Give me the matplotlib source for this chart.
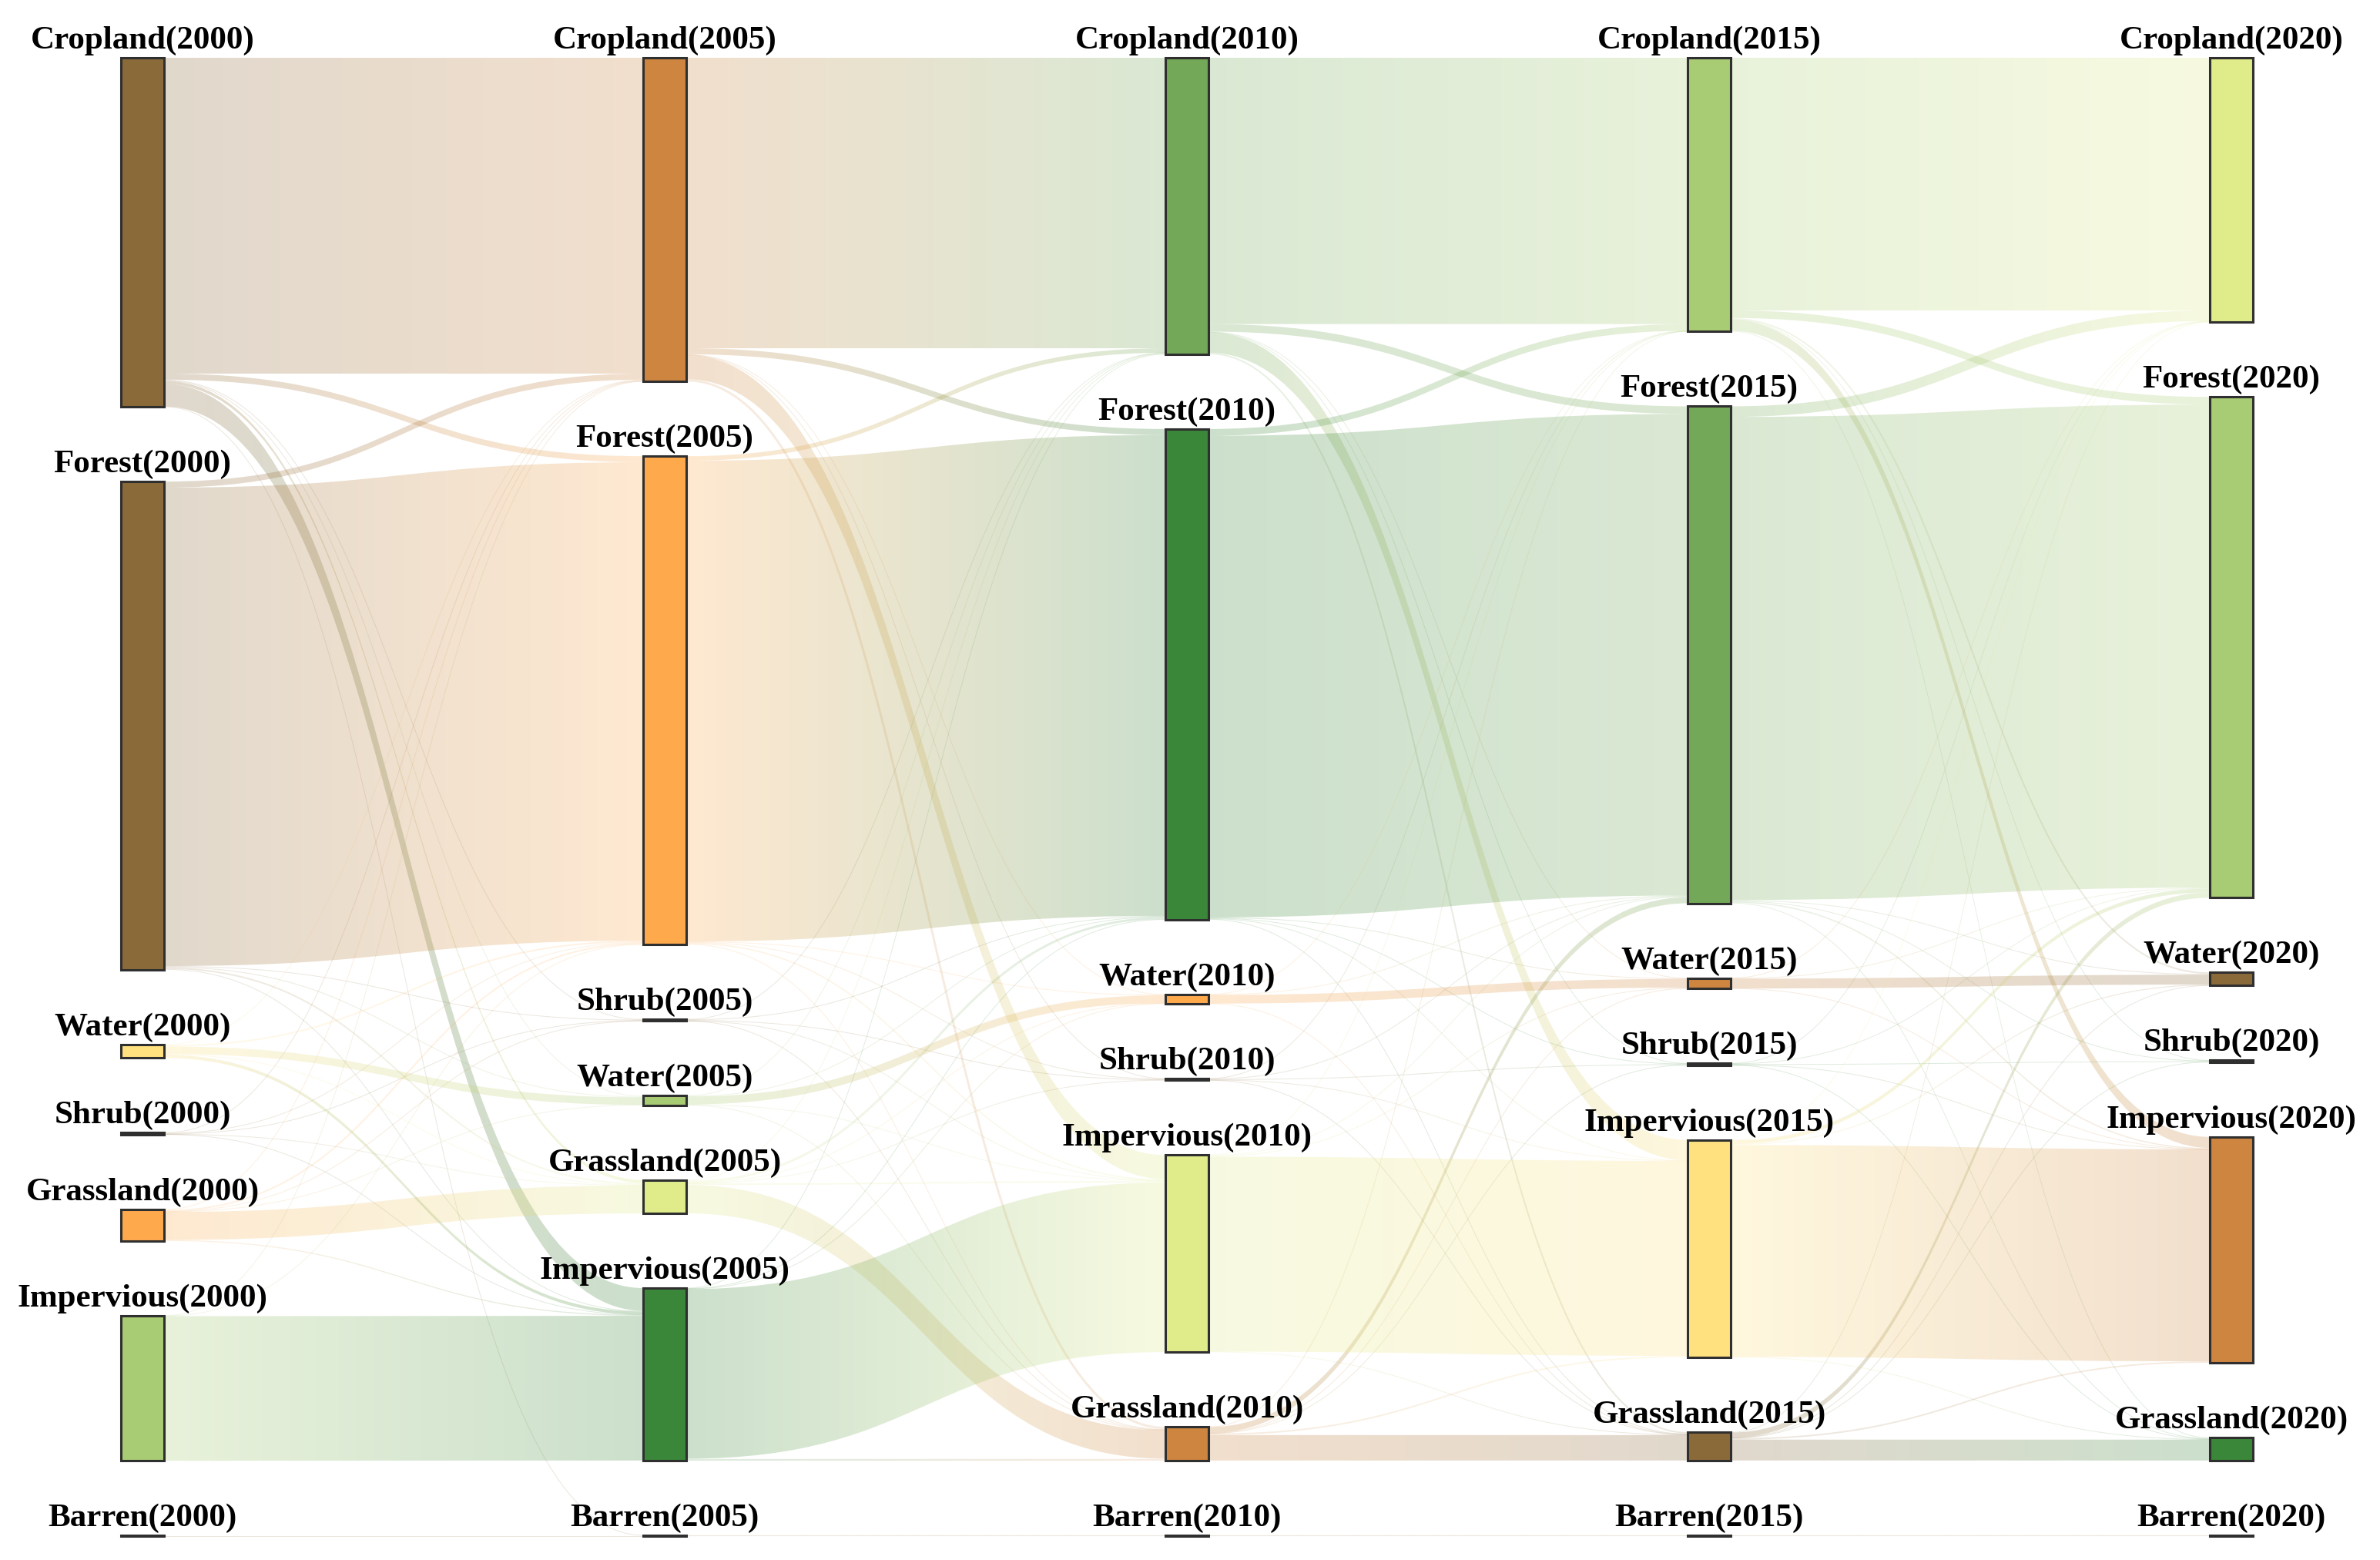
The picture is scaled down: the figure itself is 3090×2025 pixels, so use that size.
import numpy as np
import matplotlib
matplotlib.use("Agg")
import matplotlib.pyplot as plt
from matplotlib.path import Path
from matplotlib.patches import PathPatch, Rectangle
from matplotlib.collections import LineCollection
from matplotlib.colors import to_rgb

# ---------------- data ----------------
years = [2000, 2005, 2010, 2015, 2020]
categories = ["Cropland", "Forest", "Shrub", "Grassland", "Water", "Impervious", "Barren"]

# top-to-bottom order of the nodes in each year column
order_2000 = ["Cropland", "Forest", "Water", "Shrub", "Grassland", "Impervious", "Barren"]
order_2005 = ["Cropland", "Forest", "Shrub", "Water", "Grassland", "Impervious", "Barren"]
order_2010 = ["Cropland", "Forest", "Water", "Shrub", "Impervious", "Grassland", "Barren"]
order_2015 = ["Cropland", "Forest", "Water", "Shrub", "Impervious", "Grassland", "Barren"]
order_2020 = ["Cropland", "Forest", "Water", "Shrub", "Impervious", "Grassland", "Barren"]

# transition matrices: rows = source category, cols = target category (order = categories)
flows_2000_2005 = [
    [209.0, 4.0, 0.3, 2.0, 0.5, 15.0, 0.2],
    [4.0, 316.6, 0.4, 1.0, 0.5, 0.5, 0.0],
    [0.2, 0.4, 0.4, 0.1, 0.0, 0.1, 0.0],
    [0.5, 1.0, 0.1, 18.5, 0.2, 0.7, 0.0],
    [0.4, 1.0, 0.0, 0.5, 5.0, 2.1, 0.0],
    [0.1, 0.2, 0.0, 0.0, 0.0, 95.7, 0.0],
    [0.0, 0.0, 0.0, 0.0, 0.0, 0.0, 0.4],
]
flows_2005_2010 = [
    [192.2, 4.0, 0.2, 1.5, 0.3, 16.0, 0.0],
    [3.0, 318.2, 0.4, 0.5, 0.3, 0.8, 0.0],
    [0.1, 0.4, 0.5, 0.1, 0.0, 0.1, 0.0],
    [0.5, 1.5, 0.1, 18.8, 0.2, 1.0, 0.0],
    [0.2, 0.3, 0.0, 0.2, 5.2, 0.3, 0.0],
    [0.2, 0.3, 0.0, 1.2, 0.2, 112.2, 0.0],
    [0.0, 0.0, 0.0, 0.0, 0.0, 0.0, 0.6],
]
flows_2010_2015 = [
    [176.2, 5.0, 0.2, 1.0, 0.3, 13.5, 0.0],
    [4.5, 318.7, 0.4, 0.5, 0.3, 0.3, 0.0],
    [0.1, 0.4, 0.5, 0.1, 0.0, 0.1, 0.0],
    [0.2, 4.0, 0.1, 16.8, 0.2, 1.0, 0.0],
    [0.1, 0.3, 0.0, 0.1, 5.7, 0.0, 0.0],
    [0.1, 0.5, 0.0, 0.3, 0.5, 129.0, 0.0],
    [0.0, 0.0, 0.0, 0.0, 0.0, 0.0, 0.6],
]
flows_2015_2020 = [
    [167.2, 5.0, 0.2, 0.5, 1.0, 7.3, 0.0],
    [7.0, 319.7, 0.4, 0.5, 0.5, 0.8, 0.0],
    [0.1, 0.4, 0.5, 0.1, 0.0, 0.1, 0.0],
    [0.3, 3.5, 0.1, 13.8, 0.1, 1.0, 0.0],
    [0.1, 0.3, 0.0, 0.0, 6.5, 0.1, 0.0],
    [0.3, 2.5, 0.0, 0.3, 0.6, 140.2, 0.0],
    [0.0, 0.0, 0.0, 0.0, 0.0, 0.0, 0.6],
]

# ---------------- style ----------------
BROWN, PERU, ORANGE, YELLOW = "#8B6A3A", "#CD853F", "#FFA94D", "#FFE17F"
YGREEN, LGREEN, MGREEN, DGREEN = "#E0EC8A", "#A8CC73", "#72A857", "#3A873A"
node_colors = {
    2000: {"Cropland": BROWN, "Forest": BROWN, "Shrub": BROWN, "Grassland": ORANGE,
           "Water": YELLOW, "Impervious": LGREEN, "Barren": BROWN},
    2005: {"Cropland": PERU, "Forest": ORANGE, "Shrub": BROWN, "Grassland": YGREEN,
           "Water": LGREEN, "Impervious": DGREEN, "Barren": BROWN},
    2010: {"Cropland": MGREEN, "Forest": DGREEN, "Shrub": BROWN, "Grassland": PERU,
           "Water": ORANGE, "Impervious": YGREEN, "Barren": BROWN},
    2015: {"Cropland": LGREEN, "Forest": MGREEN, "Shrub": DGREEN, "Grassland": BROWN,
           "Water": PERU, "Impervious": YELLOW, "Barren": BROWN},
    2020: {"Cropland": YGREEN, "Forest": LGREEN, "Shrub": DGREEN, "Grassland": DGREEN,
           "Water": BROWN, "Impervious": PERU, "Barren": BROWN},
}
LINK_ALPHA = 0.26
THIN_ALPHA = 0.16
EDGE = "#2f2f2f"

W, H = 3090, 2025
X0, DX, NW = 157, 678, 56
TOP, GAP, BOTTOM = 75, 97, 1994

orders = [order_2000, order_2005, order_2010, order_2015, order_2020]
flows = [np.array(f) for f in (flows_2000_2005, flows_2005_2010, flows_2010_2015, flows_2015_2020)]
ci = {c: i for i, c in enumerate(categories)}

# node values
values = []
for yi in range(len(years)):
    out_v = flows[yi].sum(axis=1) if yi < len(flows) else np.zeros(len(categories))
    in_v = flows[yi - 1].sum(axis=0) if yi > 0 else np.zeros(len(categories))
    values.append(np.maximum(out_v, in_v))

k = min((BOTTOM - TOP - GAP * (len(categories) - 1)) / v.sum() for v in values)

# node positions
node_y = []
node_h = []
for yi in range(len(years)):
    ys, hs = {}, {}
    y = TOP
    for c in orders[yi]:
        h = values[yi][ci[c]] * k
        ys[c], hs[c] = y, h
        y += h + GAP
    node_y.append(ys)
    node_h.append(hs)

fig = plt.figure(figsize=(W / 100, H / 100), dpi=100)
ax = fig.add_axes([0, 0, 1, 1])
ax.axis("off")

def bezier_pts(xa, ya, xb, yb, n=80):
    t = np.linspace(0, 1, n)[:, None]
    xm = (xa + xb) / 2
    p0, p1, p2, p3 = np.array([xa, ya]), np.array([xm, ya]), np.array([xm, yb]), np.array([xb, yb])
    return ((1 - t) ** 3) * p0 + 3 * ((1 - t) ** 2) * t * p1 + 3 * (1 - t) * (t ** 2) * p2 + (t ** 3) * p3

# links
for ti, F in enumerate(flows):
    ysrc, ytgt = node_y[ti], node_y[ti + 1]
    xs = X0 + DX * ti + NW
    xt = X0 + DX * (ti + 1)
    xm = (xs + xt) / 2
    src_off = {}
    for s in categories:
        targets = sorted([t for t in categories if F[ci[s], ci[t]] > 0], key=lambda t: ytgt[t])
        o = ysrc[s]
        for t in targets:
            src_off[(s, t)] = o
            o += F[ci[s], ci[t]] * k
    tgt_off = {}
    for t in categories:
        sources = sorted([s for s in categories if F[ci[s], ci[t]] > 0], key=lambda s: ysrc[s])
        o = ytgt[t]
        for s in sources:
            tgt_off[(s, t)] = o
            o += F[ci[s], ci[t]] * k
    for s in categories:
        for t in categories:
            v = F[ci[s], ci[t]]
            if v <= 0:
                continue
            h = v * k
            y0, y1 = src_off[(s, t)], tgt_off[(s, t)]
            c0 = np.array(to_rgb(node_colors[years[ti]][s]))
            c1 = np.array(to_rgb(node_colors[years[ti + 1]][t]))
            if h < 3:
                pts = bezier_pts(xs, y0 + h / 2, xt, y1 + h / 2)
                segs = np.stack([pts[:-1], pts[1:]], axis=1)
                tt = np.linspace(0, 1, len(segs))[:, None]
                cols = np.hstack([c0 + (c1 - c0) * tt, np.full((len(segs), 1), THIN_ALPHA)])
                lc = LineCollection(segs, colors=cols, linewidths=max(h, 1.0) * 0.72,
                                    capstyle="butt", zorder=1)
                ax.add_collection(lc)
                continue
            verts = [(xs, y0), (xm, y0), (xm, y1), (xt, y1),
                     (xt, y1 + h), (xm, y1 + h), (xm, y0 + h), (xs, y0 + h), (xs, y0)]
            codes = [Path.MOVETO, Path.CURVE4, Path.CURVE4, Path.CURVE4,
                     Path.LINETO, Path.CURVE4, Path.CURVE4, Path.CURVE4, Path.CLOSEPOLY]
            patch = PathPatch(Path(verts, codes), facecolor="none", edgecolor="none")
            ax.add_patch(patch)
            n = 256
            tt = np.linspace(0, 1, n)[:, None]
            img = np.zeros((1, n, 4))
            img[0, :, :3] = c0 + (c1 - c0) * tt
            img[0, :, 3] = LINK_ALPHA
            ylo, yhi = min(y0, y1) - 2, max(y0, y1) + h + 2
            im = ax.imshow(img, extent=[xs, xt, yhi, ylo], aspect="auto",
                           interpolation="bilinear", zorder=1)
            im.set_clip_path(patch)

# nodes and labels
for yi, yr in enumerate(years):
    x = X0 + DX * yi
    for c in orders[yi]:
        y, h = node_y[yi][c], node_h[yi][c]
        ax.add_patch(Rectangle((x, y), NW, h, facecolor=node_colors[yr][c],
                               edgecolor=EDGE, linewidth=2.2, zorder=3))
        ax.text(x + NW / 2, y - 3, f"{c}({yr})", ha="center", va="bottom",
                fontsize=31, fontweight="bold", family="Liberation Serif",
                color="black", zorder=4)

ax.set_xlim(0, W)
ax.set_ylim(H, 0)
fig.savefig("out.png", dpi=100, facecolor="white")
